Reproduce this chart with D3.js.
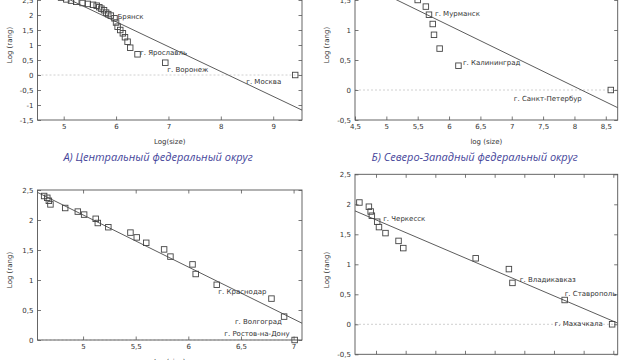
<!DOCTYPE html>
<html lang="ru">
<head>
<meta charset="utf-8">
<title>Log(rang) vs Log(size)</title>
<script src="https://cdnjs.cloudflare.com/ajax/libs/d3/7.8.5/d3.min.js"></script>
<style>
    body { margin: 0; background: #fff; }
    svg { display: block; }
    .tick text { font-family: "DejaVu Sans", sans-serif; font-size: 7px; fill: #333; }
    .lbl { font-family: "DejaVu Sans", sans-serif; font-size: 7px; fill: #333; }
    .caption { font-family: "Open Sans", sans-serif; font-style: italic; font-size: 11px; fill: #45459a; }
</style>
</head>
<body>
<div id="chart"></div>
<script>
    // points: [log(size), log(rang)]
    var pointsA = [[4.95, 2.58], [5.05, 2.52], [5.14, 2.48], [5.24, 2.44], [5.36, 2.40], [5.46, 2.37],
        [5.56, 2.34], [5.63, 2.31], [5.68, 2.26], [5.72, 2.21], [5.77, 2.16], [5.81, 2.08], [5.85, 2.03],
        [5.90, 1.98], [5.97, 1.89], [6.00, 1.75], [6.03, 1.61], [6.08, 1.50], [6.13, 1.39], [6.17, 1.26],
        [6.22, 1.11], [6.27, 0.91], [6.41, 0.69], [6.94, 0.41], [9.42, 0]];
    var pointsB = [[5.50, 1.50], [5.63, 1.39], [5.68, 1.255], [5.74, 1.10], [5.76, 0.92], [5.85, 0.69],
        [6.15, 0.405], [8.58, 0]];
    var pointsV = [[4.63, 2.40], [4.66, 2.37], [4.675, 2.32], [4.69, 2.26], [4.83, 2.20], [4.95, 2.14],
        [5.01, 2.09], [5.12, 2.02], [5.14, 1.95], [5.24, 1.88], [5.45, 1.79], [5.51, 1.71], [5.60, 1.62],
        [5.77, 1.51], [5.83, 1.39], [6.04, 1.26], [6.07, 1.10], [6.27, 0.92], [6.79, 0.69], [6.91, 0.39],
        [7.01, 0]];
    var pointsG = [[4.36, 2.03], [4.44, 1.96], [4.455, 1.88], [4.465, 1.81], [4.51, 1.71], [4.525, 1.62],
        [4.58, 1.52], [4.69, 1.39], [4.73, 1.27], [5.34, 1.10], [5.62, 0.92], [5.65, 0.69], [6.09, 0.405],
        [6.49, 0]];

    // regression lines (ends)
    var fitA = [[4.5, 3.02], [9.55, -1.17]];
    var fitB = [[4.5, 1.84], [8.69, -0.295]];
    var fitV = [[4.567, 2.46], [7.08, 0.28]];
    var fitG = [[4.323, 1.89], [6.537, 0.02]];

    // city labels: point index
    var labelsA = [{text: "Брянск", i: 14}, {text: "г. Ярославль", i: 22}, {text: "г. Воронеж", i: 23}, {text: "г. Москва", i: 24}];
    var labelsB = [{text: "г. Мурманск", i: 2}, {text: "г. Калининград", i: 6}, {text: "г. Санкт-Петербур", i: 7}];
    var labelsV = [{text: "г. Краснодар", i: 18}, {text: "г. Волгоград", i: 19}, {text: "г. Ростов-на-Дону", i: 20}];
    var labelsG = [{text: "г. Черкесск", i: 4}, {text: "г. Владикавказ", i: 11}, {text: "г. Ставрополь", i: 12}, {text: "г. Махачкала", i: 13}];

    var xTicksA = [5, 6, 7, 8, 9];
    var yTicksA = [-1.5, -1, -0.5, 0, 0.5, 1, 1.5, 2, 2.5];
    var xTicksB = [4.5, 5, 5.5, 6, 6.5, 7, 7.5, 8, 8.5];
    var yTicksB = [-0.5, 0, 0.5, 1, 1.5];
    var xTicksV = [5, 5.5, 6, 6.5, 7];
    var yTicksV = [0, 0.5, 1, 1.5, 2, 2.5];
    var xTicksG = [4.5, 4.75, 5, 5.25, 5.5, 5.75, 6, 6.25, 6.5];
    var yTicksG = [-0.5, 0, 0.5, 1, 1.5, 2, 2.5];

    // label placement (pixel offsets from the point)
    var labelPos = {
        "Брянск": [3, -1.5, "start"], "г. Ярославль": [2.5, -1.6, "start"], "г. Воронеж": [2, 6.6, "start"],
        "г. Москва": [-14, 6.7, "end"],
        "г. Мурманск": [6, -0.7, "start"], "г. Калининград": [4.5, -3, "start"], "г. Санкт-Петербур": [-29, 8.3, "end"],
        "г. Краснодар": [-5, -6.7, "end"], "г. Волгоград": [-2.3, 5.3, "end"], "г. Ростов-на-Дону": [-5, -6.7, "end"],
        "г. Черкесск": [6, -3.4, "start"], "г. Владикавказ": [7.3, -3.7, "start"], "г. Ставрополь": [0, -6, "start"],
        "г. Махачкала": [-9.3, -1, "end"]
    };

    var svg = d3.select("#chart").append("svg")
        .attr("width", 640)
        .attr("height", 360);

    var fmt = function (d) { return String(d).replace(".", ","); };

    function drawPanel(p) {
        var x = d3.scaleLinear().domain(p.xDomain).range([p.left, p.right]);
        var y = d3.scaleLinear().domain(p.yDomain).range([p.bottom, p.top]);
        var g = svg.append("g");

        g.append("clipPath").attr("id", p.id + "-clip")
            .append("rect")
            .attr("x", p.left).attr("y", p.top)
            .attr("width", p.right - p.left).attr("height", p.bottom - p.top);

        // zero axis
        g.append("line")
            .attr("x1", p.left).attr("x2", p.right)
            .attr("y1", y(0)).attr("y2", y(0))
            .attr("stroke", "#c4c4c4").attr("stroke-width", 0.8)
            .attr("stroke-dasharray", "2,2");

        // axes, ticks pointing in
        var axes = [
            [d3.axisBottom(x).tickValues(p.xTicks).tickFormat(p.xLabels ? fmt : ""), p.bottom, null],
            [d3.axisTop(x).tickValues(p.xTicks).tickFormat(""), p.top, null],
            [d3.axisLeft(y).tickValues(p.yTicks).tickFormat(fmt), null, p.left],
            [d3.axisRight(y).tickValues(p.yTicks).tickFormat(""), null, p.right]
        ];
        axes.forEach(function (a) {
            var ax = g.append("g")
                .attr("transform", a[1] !== null ? "translate(0," + a[1] + ")" : "translate(" + a[2] + ",0)")
                .call(a[0].tickSizeInner(-3.5).tickSizeOuter(0).tickPadding(4));
            ax.select(".domain").remove();
            ax.selectAll(".tick line").attr("stroke", "#555").attr("stroke-width", 0.8);
        });
        g.selectAll(".tick text").filter(function () { return this.textContent === ""; }).remove();

        g.append("rect")
            .attr("x", p.left).attr("y", p.top)
            .attr("width", p.right - p.left).attr("height", p.bottom - p.top)
            .attr("fill", "none").attr("stroke", "#555").attr("stroke-width", 0.9);

        var inner = g.append("g").attr("clip-path", "url(#" + p.id + "-clip)");

        inner.append("path")
            .datum(p.fit)
            .attr("d", d3.line().x(function (d) { return x(d[0]); }).y(function (d) { return y(d[1]); }))
            .attr("fill", "none").attr("stroke", "#4a4a4a").attr("stroke-width", 0.9);

        // labels under the markers
        g.selectAll(".lbl-" + p.id)
            .data(p.labels)
            .enter().append("text")
            .attr("class", "lbl")
            .attr("x", function (d) { return x(p.points[d.i][0]) + labelPos[d.text][0]; })
            .attr("y", function (d) { return y(p.points[d.i][1]) + labelPos[d.text][1]; })
            .attr("dy", "0.35em")
            .attr("text-anchor", function (d) { return labelPos[d.text][2]; })
            .text(function (d) { return d.text; });

        var s = 5.5;
        g.selectAll(".pt-" + p.id)
            .data(p.points)
            .enter().append("rect")
            .attr("x", function (d) { return x(d[0]) - s / 2; })
            .attr("y", function (d) { return y(d[1]) - s / 2; })
            .attr("width", s).attr("height", s)
            .attr("fill", "none").attr("stroke", "#444").attr("stroke-width", 0.9);

        if (p.xTitle) {
            g.append("text").attr("class", "lbl")
                .attr("x", (p.left + p.right) / 2).attr("y", p.bottom + 21.7)
                .attr("dy", "0.35em").attr("text-anchor", "middle")
                .text(p.xTitle);
        }

        g.append("text").attr("class", "lbl")
            .attr("transform", "translate(" + p.yTitleX + "," + p.yTitleY + ") rotate(-90)")
            .attr("dy", "0.35em").attr("text-anchor", "middle")
            .text("Log (rang)");

        if (p.caption) {
            g.append("text").attr("class", "caption")
                .attr("x", (p.left + p.right) / 2 - 11.7).attr("y", p.bottom + 37)
                .attr("dy", "0.35em").attr("text-anchor", "middle")
                .text(p.caption);
        }
    }

    drawPanel({id: "a", left: 37.5, right: 302, top: -30, bottom: 120,
        xDomain: [4.5, 9.55], yDomain: [-1.5, 3.5], xTicks: xTicksA, yTicks: yTicksA, xLabels: true,
        points: pointsA, fit: fitA, labels: labelsA, xTitle: "Log(size)", yTitleX: 10, yTitleY: 45,
        caption: "А) Центральный федеральный округ"});

    drawPanel({id: "b", left: 355, right: 617.7, top: -30, bottom: 120,
        xDomain: [4.5, 8.69], yDomain: [-0.5, 2], xTicks: xTicksB, yTicks: yTicksB, xLabels: true,
        points: pointsB, fit: fitB, labels: labelsB, xTitle: "log (size)", yTitleX: 326.7, yTitleY: 45,
        caption: "Б) Северо-Западный федеральный округ"});

    drawPanel({id: "v", left: 37.5, right: 302, top: 190, bottom: 340,
        xDomain: [4.567, 7.08], yDomain: [0, 2.5], xTicks: xTicksV, yTicks: yTicksV, xLabels: true,
        points: pointsV, fit: fitV, labels: labelsV, xTitle: "Log(size)", yTitleX: 10, yTitleY: 270,
        caption: null});

    // bottom of this panel is cut in the source, its x labels are not visible
    drawPanel({id: "g", left: 355, right: 617.7, top: 174.3, bottom: 354.3,
        xDomain: [4.323, 6.537], yDomain: [-0.5, 2.5], xTicks: xTicksG, yTicks: yTicksG, xLabels: false,
        points: pointsG, fit: fitG, labels: labelsG, xTitle: null, yTitleX: 326.7, yTitleY: 270,
        caption: null});
</script>
</body>
</html>
